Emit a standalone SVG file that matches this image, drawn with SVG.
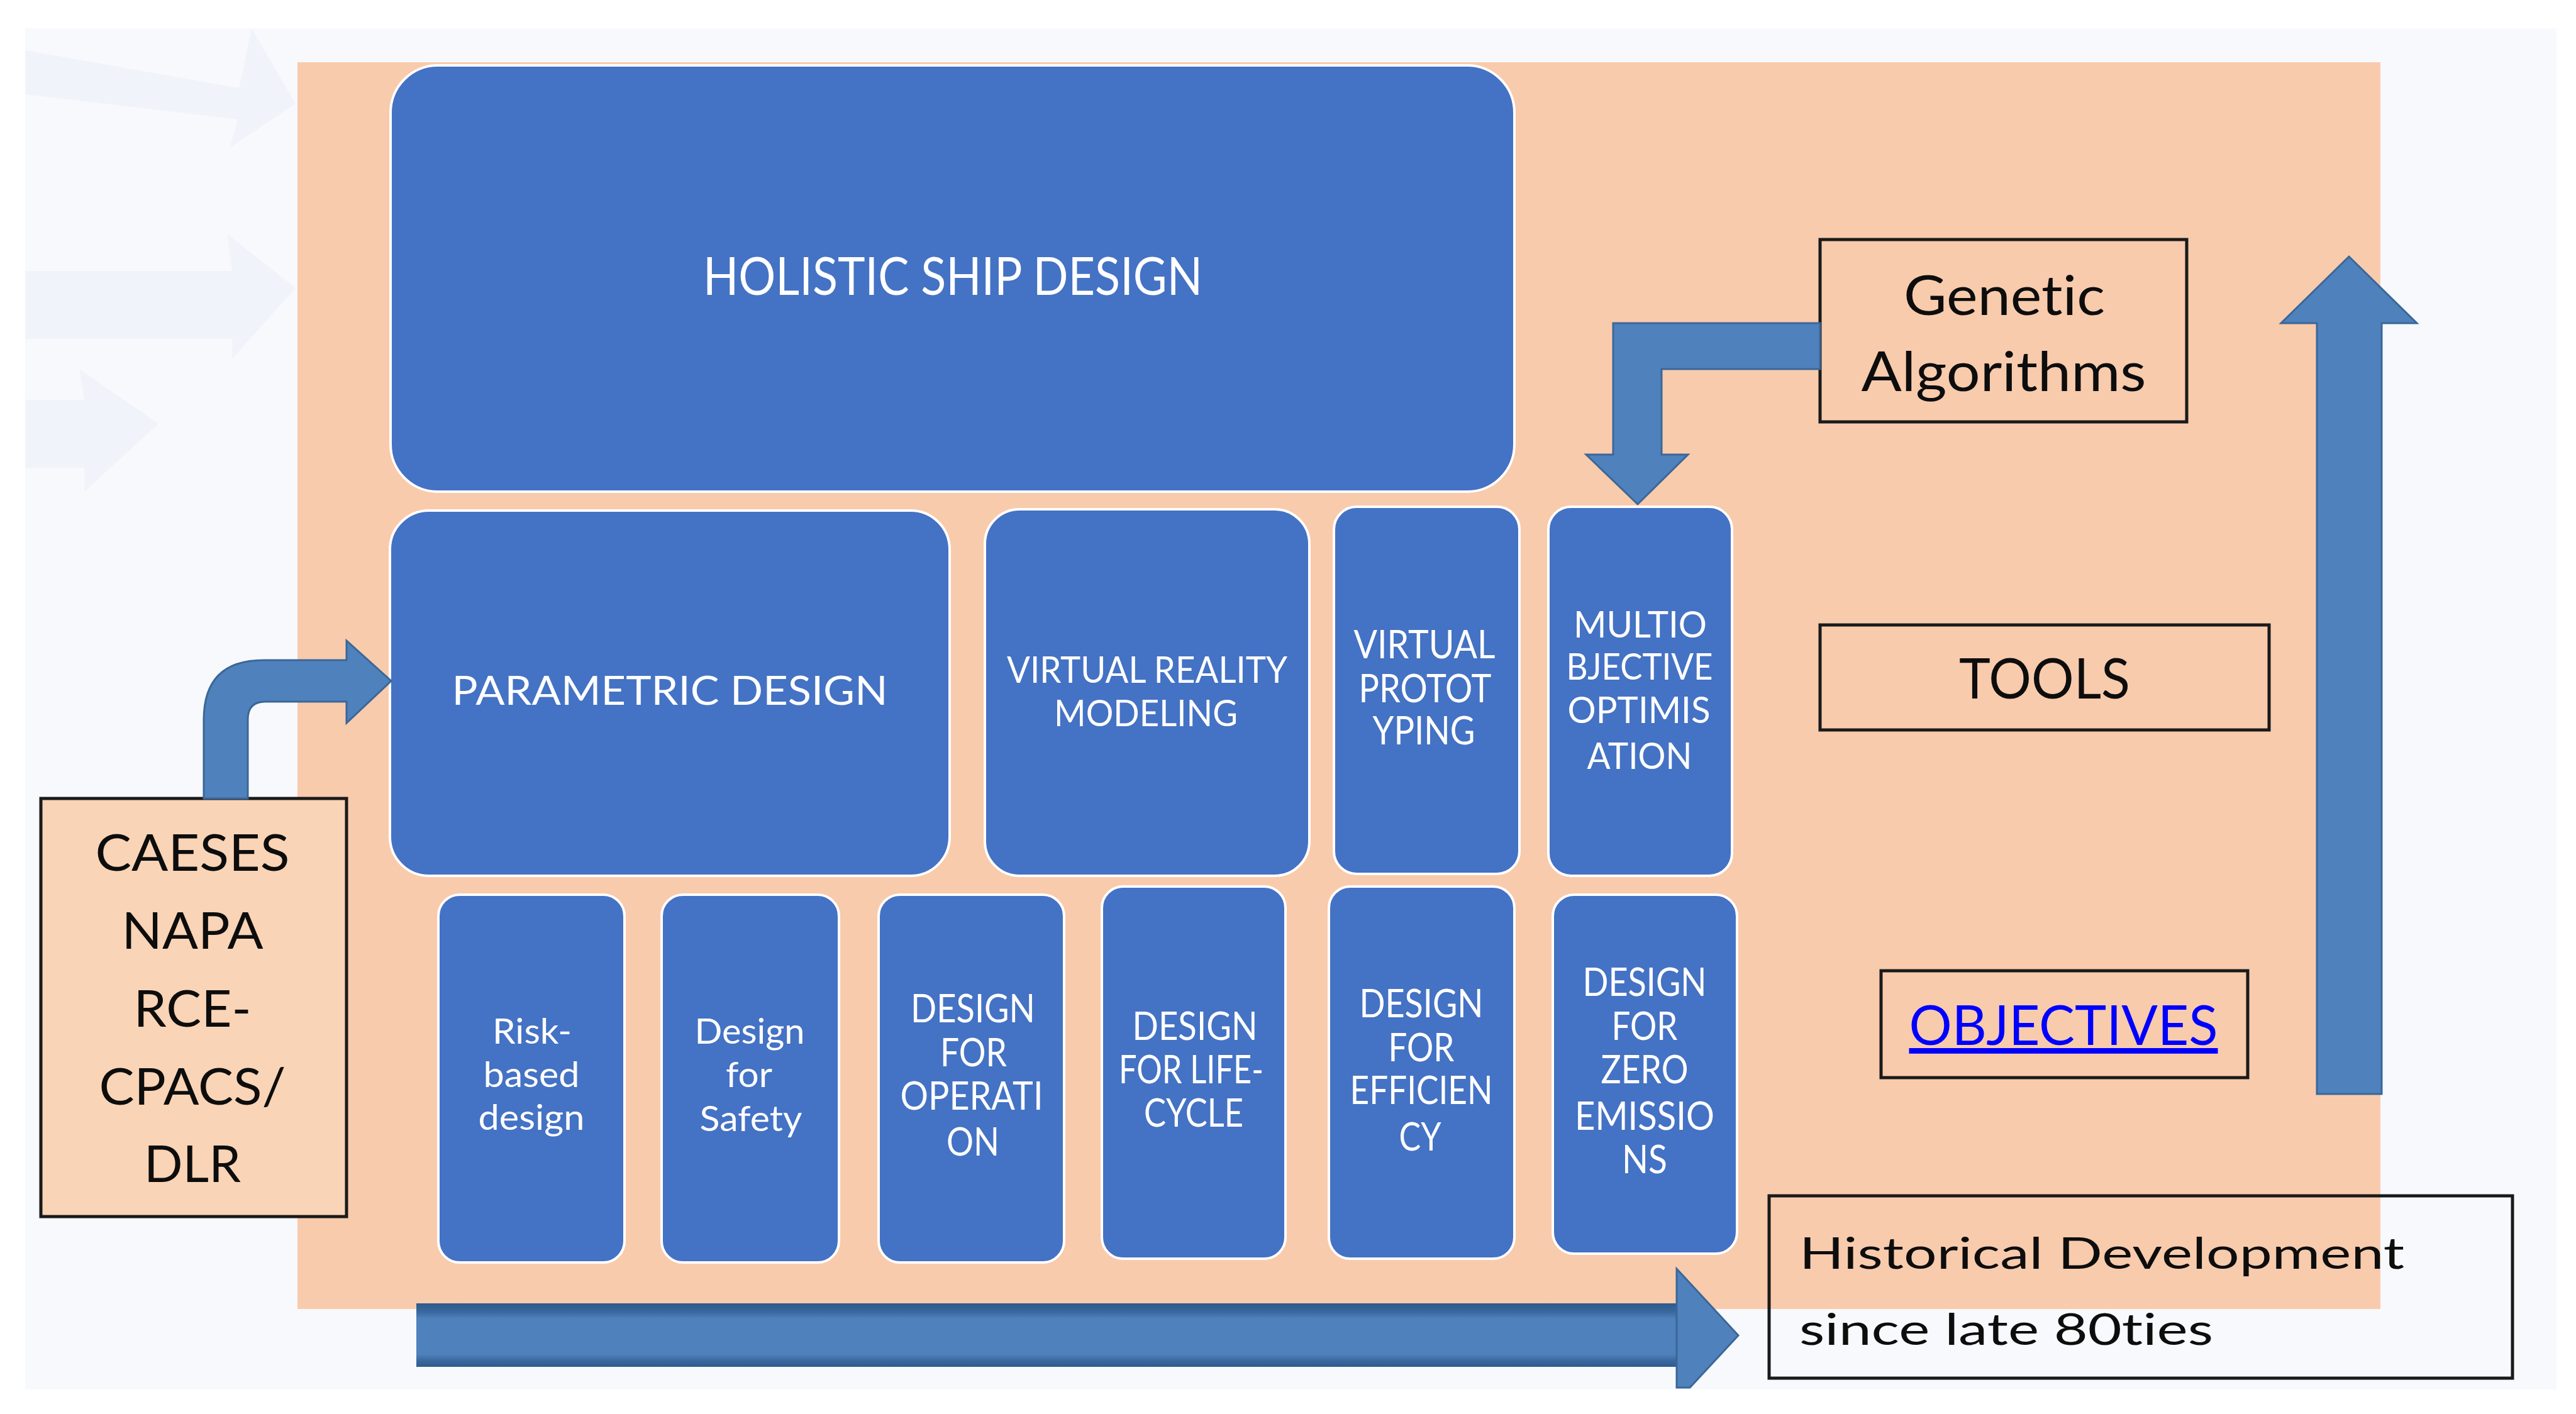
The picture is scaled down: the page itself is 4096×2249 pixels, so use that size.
<svg xmlns="http://www.w3.org/2000/svg" width="4096" height="2249" viewBox="0 0 4096 2249">
<defs>
<linearGradient id="shaftGrad" x1="0" y1="0" x2="0" y2="1">
<stop offset="0" stop-color="#2e5a8c"/>
<stop offset="0.14" stop-color="#3a699f"/>
<stop offset="0.24" stop-color="#4f81bd"/>
<stop offset="0.8" stop-color="#4f81bd"/>
<stop offset="0.9" stop-color="#3a699f"/>
<stop offset="1" stop-color="#2e5a8c"/>
</linearGradient>
</defs>
<style>
text{font-variant-ligatures:none;font-feature-settings:"liga" 0,"clig" 0}
.blue{fill:#4472c4;stroke:#ffffff;stroke-width:4}
.box{fill:none;stroke:#1a1a1a;stroke-width:5}
.arrow{fill:#4f81bd;stroke:#3b6797;stroke-width:3}
.wt{fill:#ffffff;font-family:Lato,"Open Sans",sans-serif;text-anchor:middle}
.bt{fill:#0d0d0d;font-family:Lato,"Open Sans",sans-serif;text-anchor:middle}
.faint{fill:#f1f3fb}
</style>
<rect x="0" y="0" width="4096" height="2249" fill="#ffffff"/>
<rect x="40" y="45" width="4025" height="2165" fill="#f8f9fc"/>
<g id="background-arrows">
<polygon class="faint" points="40,80 380,140 400,45 470,165 365,235 378,190 40,150"/>
<polygon class="faint" points="40,431 369,431 361,372 470,458 369,571 369,539 40,539"/>
<polygon class="faint" points="40,636 134,636 126,587 252,674 134,782 134,744 40,744"/>
</g>
<rect id="frame" x="473" y="99" width="3312" height="1983" fill="#f8cbad"/>

<g id="node-holistic">
<rect class="blue" x="621" y="104" width="1787" height="678" rx="75"/>
<text class="wt" x="1515" y="469" font-size="84" textLength="794" lengthAdjust="spacingAndGlyphs">HOLISTIC SHIP DESIGN</text>
</g>
<g id="node-parametric">
<rect class="blue" x="620" y="812" width="890" height="581" rx="62"/>
<text class="wt" x="1065" y="1121" font-size="64" textLength="693" lengthAdjust="spacingAndGlyphs">PARAMETRIC DESIGN</text>
</g>
<g id="node-vr">
<rect class="blue" x="1566" y="810" width="516" height="583" rx="55"/>
<text class="wt" x="1824" y="1086" font-size="59" textLength="446" lengthAdjust="spacingAndGlyphs">VIRTUAL REALITY</text>
<text class="wt" x="1822" y="1155" font-size="59" textLength="292" lengthAdjust="spacingAndGlyphs">MODELING</text>
</g>
<g id="node-vproto">
<rect class="blue" x="2121" y="806" width="295" height="584" rx="36"/>
<text class="wt" x="2265" y="1047" font-size="61" textLength="225" lengthAdjust="spacingAndGlyphs">VIRTUAL</text>
<text class="wt" x="2266" y="1117" font-size="61" textLength="211" lengthAdjust="spacingAndGlyphs">PROTOT</text>
<text class="wt" x="2264" y="1184" font-size="61" textLength="163" lengthAdjust="spacingAndGlyphs">YPING</text>
</g>
<g id="node-multiobj">
<rect class="blue" x="2462" y="806" width="292" height="587" rx="36"/>
<text class="wt" x="2608" y="1014" font-size="59" textLength="212" lengthAdjust="spacingAndGlyphs">MULTIO</text>
<text class="wt" x="2607" y="1081" font-size="59" textLength="233" lengthAdjust="spacingAndGlyphs">BJECTIVE</text>
<text class="wt" x="2606" y="1150" font-size="59" textLength="227" lengthAdjust="spacingAndGlyphs">OPTIMIS</text>
<text class="wt" x="2607" y="1223" font-size="59" textLength="167" lengthAdjust="spacingAndGlyphs">ATION</text>
</g>

<g id="node-risk">
<rect class="blue" x="697" y="1423" width="296" height="585" rx="34"/>
<text class="wt" x="846" y="1660" font-size="57" textLength="126" lengthAdjust="spacingAndGlyphs">Risk-</text>
<text class="wt" x="845" y="1729" font-size="57" textLength="153" lengthAdjust="spacingAndGlyphs">based</text>
<text class="wt" x="845" y="1797" font-size="57" textLength="169" lengthAdjust="spacingAndGlyphs">design</text>
</g>
<g id="node-safety">
<rect class="blue" x="1052" y="1423" width="282" height="585" rx="34"/>
<text class="wt" x="1192" y="1660" font-size="57" textLength="175" lengthAdjust="spacingAndGlyphs">Design</text>
<text class="wt" x="1191" y="1729" font-size="57" textLength="74" lengthAdjust="spacingAndGlyphs">for</text>
<text class="wt" x="1194" y="1799" font-size="57" textLength="163" lengthAdjust="spacingAndGlyphs">Safety</text>
</g>
<g id="node-operation">
<rect class="blue" x="1397" y="1423" width="295" height="585" rx="34"/>
<text class="wt" x="1547" y="1626" font-size="61" textLength="198" lengthAdjust="spacingAndGlyphs">DESIGN</text>
<text class="wt" x="1548" y="1696" font-size="61" textLength="106" lengthAdjust="spacingAndGlyphs">FOR</text>
<text class="wt" x="1545" y="1765" font-size="61" textLength="227" lengthAdjust="spacingAndGlyphs">OPERATI</text>
<text class="wt" x="1547" y="1838" font-size="61" textLength="84" lengthAdjust="spacingAndGlyphs">ON</text>
</g>
<g id="node-lifecycle">
<rect class="blue" x="1752" y="1410" width="292" height="592" rx="34"/>
<text class="wt" x="1900" y="1654" font-size="61" textLength="199" lengthAdjust="spacingAndGlyphs">DESIGN</text>
<text class="wt" x="1894" y="1723" font-size="61" textLength="230" lengthAdjust="spacingAndGlyphs">FOR LIFE-</text>
<text class="wt" x="1898" y="1792" font-size="61" textLength="158" lengthAdjust="spacingAndGlyphs">CYCLE</text>
</g>
<g id="node-efficiency">
<rect class="blue" x="2113" y="1410" width="295" height="592" rx="34"/>
<text class="wt" x="2260" y="1618" font-size="61" textLength="197" lengthAdjust="spacingAndGlyphs">DESIGN</text>
<text class="wt" x="2260" y="1688" font-size="61" textLength="105" lengthAdjust="spacingAndGlyphs">FOR</text>
<text class="wt" x="2260" y="1756" font-size="61" textLength="227" lengthAdjust="spacingAndGlyphs">EFFICIEN</text>
<text class="wt" x="2258" y="1830" font-size="61" textLength="67" lengthAdjust="spacingAndGlyphs">CY</text>
</g>
<g id="node-zero">
<rect class="blue" x="2469" y="1423" width="293" height="571" rx="34"/>
<text class="wt" x="2615" y="1584" font-size="61" textLength="197" lengthAdjust="spacingAndGlyphs">DESIGN</text>
<text class="wt" x="2615" y="1654" font-size="61" textLength="105" lengthAdjust="spacingAndGlyphs">FOR</text>
<text class="wt" x="2615" y="1723" font-size="61" textLength="139" lengthAdjust="spacingAndGlyphs">ZERO</text>
<text class="wt" x="2615" y="1797" font-size="61" textLength="222" lengthAdjust="spacingAndGlyphs">EMISSIO</text>
<text class="wt" x="2615" y="1866" font-size="61" textLength="72" lengthAdjust="spacingAndGlyphs">NS</text>
</g>

<g id="node-caeses">
<rect x="65" y="1270" width="486" height="665" fill="#fad4b6" stroke="#1a1a1a" stroke-width="5"/>
<text class="bt" x="306" y="1385" font-size="82" textLength="309" lengthAdjust="spacingAndGlyphs">CAESES</text>
<text class="bt" x="306" y="1509" font-size="82" textLength="225" lengthAdjust="spacingAndGlyphs">NAPA</text>
<text class="bt" x="306" y="1633" font-size="82" textLength="187" lengthAdjust="spacingAndGlyphs">RCE-</text>
<text class="bt" x="306" y="1757" font-size="82" textLength="297" lengthAdjust="spacingAndGlyphs">CPACS/</text>
<text class="bt" x="306" y="1880" font-size="82" textLength="154" lengthAdjust="spacingAndGlyphs">DLR</text>
</g>
<g id="node-genetic">
<rect class="box" x="2894" y="381" width="583" height="290"/>
<text class="bt" x="3187" y="501" font-size="87" textLength="320" lengthAdjust="spacingAndGlyphs">Genetic</text>
<text class="bt" x="3186" y="622" font-size="87" textLength="453" lengthAdjust="spacingAndGlyphs">Algorithms</text>
</g>
<g id="node-tools">
<rect class="box" x="2894" y="994" width="714" height="167"/>
<text class="bt" x="3251" y="1111" font-size="90" textLength="272" lengthAdjust="spacingAndGlyphs">TOOLS</text>
</g>
<g id="node-objectives">
<rect class="box" x="2991" y="1544" width="583" height="170"/>
<text x="3281" y="1662" font-size="88" fill="#0000ff" font-family="Lato,'Open Sans',sans-serif" text-anchor="middle" text-decoration="underline" textLength="491" lengthAdjust="spacingAndGlyphs">OBJECTIVES</text>
</g>

<g id="connectors">
<path class="arrow" d="M 324 1270 L 324 1145 Q 324 1050 419 1050 L 551 1050 L 551 1019 L 622 1083 L 551 1150 L 551 1116 L 422 1116 Q 394 1116 394 1144 L 394 1270 Z"/>
<path class="arrow" d="M 2894 514 L 2565 514 L 2565 723 L 2522 723 L 2604 802 L 2684 723 L 2642 723 L 2642 587 L 2894 587 Z"/>
<path class="arrow" d="M 3684 1740 L 3684 514 L 3627 514 L 3735 408 L 3843 514 L 3787 514 L 3787 1740 Z"/>
<rect x="662" y="2073" width="2006" height="101" fill="url(#shaftGrad)"/>
<polygon points="2666,2018 2764,2124 2687,2207 2666,2207" fill="#4f81bd" stroke="#3b6797" stroke-width="3"/>
</g>

<g id="node-historical">
<rect x="2813" y="1902" width="1182" height="290" fill="none" stroke="#1a1a1a" stroke-width="5"/>
<text x="2861" y="2018" font-size="70" fill="#0d0d0d" font-family="Lato,'Open Sans',sans-serif" textLength="962" lengthAdjust="spacingAndGlyphs">Historical Development</text>
<text x="2861" y="2139" font-size="70" fill="#0d0d0d" font-family="Lato,'Open Sans',sans-serif" textLength="658" lengthAdjust="spacingAndGlyphs">since late 80ties</text>
</g>
</svg>
